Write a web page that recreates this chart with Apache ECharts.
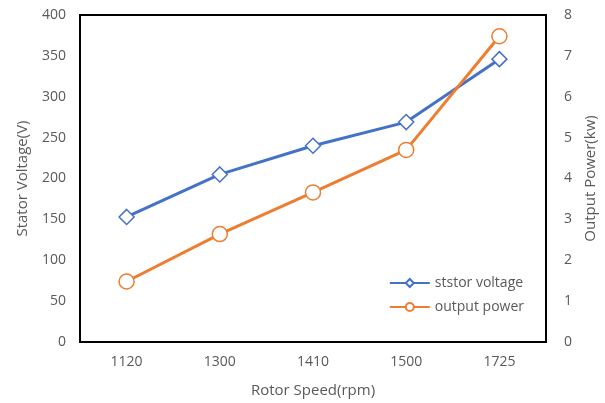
<!DOCTYPE html>
<html>
<head>
<meta charset="utf-8">
<script src="https://cdn.jsdelivr.net/npm/echarts@6/dist/echarts.min.js"></script>
<style>
  html, body { margin: 0; padding: 0; background: #fff; }
  #chart { width: 605px; height: 403px; }
</style>
</head>
<body>
<div id="chart"></div>
<script>
// данные
const speeds = ['1120', '1300', '1410', '1500', '1725'];
const statorVoltage = [153, 205, 240, 269, 346];
const outputPower = [1.48, 2.64, 3.66, 4.7, 7.48];

const chart = echarts.init(document.getElementById('chart'));
const grey = '#595959';
const font = 'Open Sans, Calibri, sans-serif';

const option = {
    animation: false,
    textStyle: { fontFamily: font },
    grid: {
        left: 80, right: 59, top: 15, bottom: 61,
        show: true, borderColor: '#000', borderWidth: 2,
        containLabel: false,
        outerBoundsMode: 'none'
    },
    legend: {
        orient: 'vertical',
        right: 76,
        top: 271,
        itemGap: 10,
        itemWidth: 40,
        itemHeight: 10,
        textStyle: { color: grey, fontSize: 14, fontFamily: font },
        data: ['ststor voltage', 'output power']
    },
    xAxis: {
        type: 'category',
        data: speeds,
        name: 'Rotor Speed(rpm)',
        nameLocation: 'middle',
        nameGap: 41,
        nameTextStyle: { color: grey, fontSize: 15 },
        axisLine: { show: false },
        axisTick: { show: false },
        axisLabel: { color: grey, fontSize: 14, margin: 13 }
    },
    yAxis: [{
        type: 'value',
        min: 0, max: 400, interval: 50,
        name: 'Stator Voltage(V)',
        nameLocation: 'middle',
        nameGap: 50,
        nameTextStyle: { color: grey, fontSize: 15 },
        axisLine: { show: false },
        axisTick: { show: false },
        splitLine: { show: false },
        axisLabel: { color: grey, fontSize: 14, margin: 14 }
    }, {
        type: 'value',
        min: 0, max: 8, interval: 1,
        name: 'Output Power(kw)',
        nameLocation: 'middle',
        nameGap: 37,
        nameTextStyle: { color: grey, fontSize: 15 },
        axisLine: { show: false },
        axisTick: { show: false },
        splitLine: { show: false },
        axisLabel: { color: grey, fontSize: 14, margin: 18 }
    }],
    series: [{
        name: 'ststor voltage',
        type: 'line',
        data: statorVoltage,
        yAxisIndex: 0,
        symbol: 'diamond',
        symbolSize: 15,
        lineStyle: { color: '#4472C4', width: 3 },
        itemStyle: { color: '#fff', borderColor: '#4472C4', borderWidth: 1.5 }
    }, {
        name: 'output power',
        type: 'line',
        data: outputPower,
        yAxisIndex: 1,
        symbol: 'circle',
        symbolSize: 15,
        lineStyle: { color: '#ED7D31', width: 3 },
        itemStyle: { color: '#fff', borderColor: '#ED7D31', borderWidth: 1.5 }
    }]
};

chart.setOption(option);
</script>
</body>
</html>
